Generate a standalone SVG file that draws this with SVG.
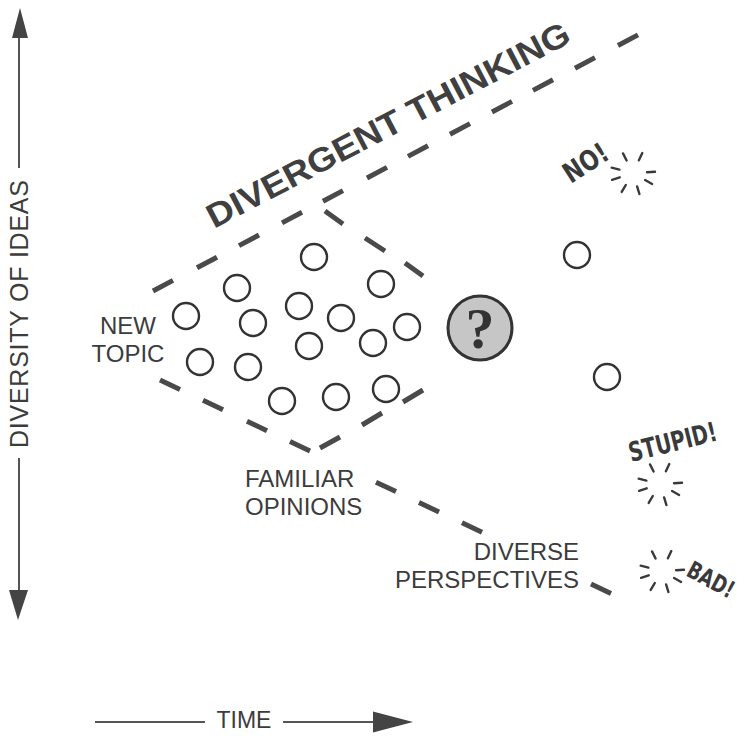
<svg xmlns="http://www.w3.org/2000/svg" width="748" height="736" viewBox="0 0 748 736">
<style>
.dash{stroke:#4a4a4a;stroke-width:5;fill:none;stroke-linecap:butt}
.idea{fill:#ffffff;stroke:#333333;stroke-width:2.4}
.lbl{font-family:"Liberation Sans",Arial,sans-serif;font-size:24px;fill:#3c3c3c}
.shout{font-family:"DejaVu Sans Condensed","Liberation Sans Narrow","Liberation Sans",sans-serif;font-weight:bold;font-size:24px;fill:#3a3a3a}
.axis{stroke:#555555;stroke-width:2;fill:none}
.head{fill:#444444}
.ray{stroke:#3a3a3a;stroke-width:2.4;stroke-linecap:round}
</style>
<defs>
<g id="burst">
<line class="ray" x1="-6.4" y1="-12.5" x2="-10" y2="-19.6"/>
<line class="ray" x1="5.9" y1="-12.7" x2="9.3" y2="-19.9"/>
<line class="ray" x1="-13.6" y1="-3.4" x2="-21.3" y2="-5.3"/>
<line class="ray" x1="14" y1="-0.7" x2="22" y2="-1.2"/>
<line class="ray" x1="-13.3" y1="4.3" x2="-20.9" y2="6.8"/>
<line class="ray" x1="12.1" y1="7" x2="19.1" y2="11"/>
<line class="ray" x1="-7.2" y1="12" x2="-11.3" y2="18.9"/>
<line class="ray" x1="4.1" y1="13.4" x2="6.4" y2="21"/>
</g>
</defs>
<rect width="748" height="736" fill="#ffffff"/>

<g id="connectors">
<path class="dash" d="M153,291L173,280.4M197,267.8L217,257.2M239,245.6L259,235M282,222.9L302,212.3M323,201.2L343,190.6M367,178L387,167.4M408,156.4L428,145.8M450,134.2L470,123.6M492,112L512,101.4M533,90.4L553,79.8M575,68.2L595,57.6M618,45.5L638,34.9"/>
<path class="dash" d="M325,211L343,224M365,238L385,251M405,263L423,276"/>
<path class="dash" d="M320,448L340,437M362,425L382,413M403,402L423,390"/>
<path class="dash" d="M160,380L180,389.5M203,400.3L223,409.8M247,421.2L267,430.7M290,441.5L310,451M376,482.2L396,491.6M419,502.5L439,512M462,522.8L482,532.3M591,583.9L611,593.4"/>
</g>

<g id="axis-y">
<line class="axis" x1="19" y1="36" x2="19" y2="168"/>
<line class="axis" x1="19" y1="458" x2="19" y2="591"/>
<polygon class="head" points="20,8 12,38 28,38"/>
<polygon class="head" points="9,590 28,590 18,620"/>
<text class="lbl" transform="translate(28,314) rotate(-90)" text-anchor="middle" style="font-size:25px" textLength="268" lengthAdjust="spacing">DIVERSITY OF IDEAS</text>
</g>

<g id="axis-x">
<line class="axis" x1="95" y1="722" x2="205" y2="722"/>
<line class="axis" x1="283" y1="722" x2="378" y2="722"/>
<polygon class="head" points="373,711.5 413,722 373,732.5"/>
<text class="lbl" x="244" y="728" text-anchor="middle" style="font-size:23px">TIME</text>
</g>

<g id="title">
<text transform="translate(214,229) rotate(-27.6)" style="font-family:'Liberation Sans',Arial,sans-serif;font-weight:bold;font-size:34px;fill:#404040" textLength="405" lengthAdjust="spacingAndGlyphs">DIVERGENT THINKING</text>
</g>

<g id="new-topic">
<text class="lbl" x="128" y="334" text-anchor="middle">NEW</text>
<text class="lbl" x="128" y="362" text-anchor="middle">TOPIC</text>
</g>

<g id="familiar-opinions">
<text class="lbl" x="245" y="487">FAMILIAR</text>
<text class="lbl" x="245" y="515">OPINIONS</text>
</g>

<g id="diverse-perspectives">
<text class="lbl" x="579" y="560" text-anchor="end">DIVERSE</text>
<text class="lbl" x="579" y="588" text-anchor="end">PERSPECTIVES</text>
</g>

<g id="ideas">
<circle class="idea" cx="314" cy="257" r="13"/>
<circle class="idea" cx="237" cy="288" r="13"/>
<circle class="idea" cx="381" cy="284" r="13"/>
<circle class="idea" cx="186" cy="316" r="13"/>
<circle class="idea" cx="253" cy="323" r="13"/>
<circle class="idea" cx="299" cy="306" r="13"/>
<circle class="idea" cx="341" cy="318" r="13"/>
<circle class="idea" cx="407" cy="327" r="13"/>
<circle class="idea" cx="309" cy="346" r="13"/>
<circle class="idea" cx="373" cy="343" r="13"/>
<circle class="idea" cx="200" cy="362" r="13"/>
<circle class="idea" cx="248" cy="367" r="13"/>
<circle class="idea" cx="282" cy="401" r="13"/>
<circle class="idea" cx="336" cy="397" r="13"/>
<circle class="idea" cx="386" cy="389" r="13"/>
</g>

<g id="idea-outlier-1"><circle class="idea" cx="577" cy="255" r="13"/></g>
<g id="idea-outlier-2"><circle class="idea" cx="607" cy="377" r="13"/></g>

<g id="question">
<circle cx="480" cy="328" r="32" fill="#c6c6c6" stroke="#333333" stroke-width="3"/>
<text x="480" y="348" text-anchor="middle" style="font-family:'Liberation Serif','Times New Roman',serif;font-weight:bold;font-size:58px;fill:#333333">?</text>
</g>

<g id="no">
<text class="shout" transform="translate(591,171) rotate(-33)" text-anchor="middle" style="font-size:28px" textLength="48" lengthAdjust="spacingAndGlyphs">NO!</text>
<use href="#burst" x="633" y="173"/>
</g>

<g id="stupid">
<text class="shout" transform="translate(675,451) rotate(-14)" text-anchor="middle" style="font-size:27px" textLength="90" lengthAdjust="spacingAndGlyphs">STUPID!</text>
<use href="#burst" x="660" y="484"/>
</g>

<g id="bad">
<text class="shout" transform="translate(707,587) rotate(28)" text-anchor="middle" style="font-size:24px" textLength="50" lengthAdjust="spacingAndGlyphs">BAD!</text>
<use href="#burst" x="662" y="571"/>
</g>
</svg>
